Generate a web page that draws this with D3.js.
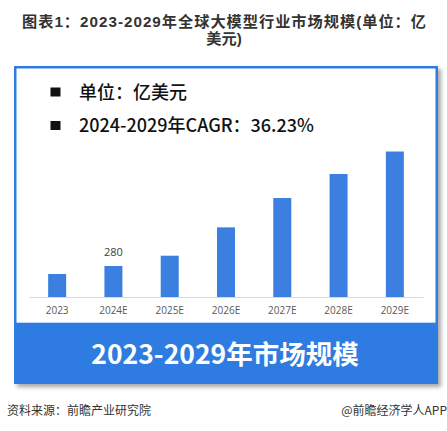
<!DOCTYPE html>
<html><head><meta charset="utf-8">
<script src="https://cdn.jsdelivr.net/npm/d3@7"></script>
<style>
html,body{margin:0;padding:0;background:#fff;}
svg{display:block;font-family:"Noto Sans CJK SC","Noto Sans",sans-serif;}
</style></head>
<body>
<svg id="chart" width="447" height="431"></svg>
<script>
const categories = ["2023","2024E","2025E","2026E","2027E","2028E","2029E"];
const values = [208, 280, 373, 629, 894, 1111, 1314];
const labelled = ["2024E"];
const titleLines = ["图表1：2023-2029年全球大模型行业市场规模(单位：亿", "美元)"];
const legendLines = ["单位：亿美元", "2024-2029年CAGR：36.23%"];
const bannerText = "2023-2029年市场规模";
const sourceText = "资料来源：前瞻产业研究院";
const creditText = "@前瞻经济学人APP";

const blue = "#2F7BE2";
const barColor = "#3B80E0";
const svg = d3.select("#chart");

const defs = svg.append("defs");
const f = defs.append("filter").attr("id","sh").attr("x","-5%").attr("y","-5%").attr("width","115%").attr("height","115%");
f.append("feDropShadow").attr("dx",3).attr("dy",3).attr("stdDeviation",2).attr("flood-color","#000").attr("flood-opacity",0.35);

// title
svg.append("g").selectAll("text").data(titleLines).join("text")
  .attr("x",224).attr("y",(d,i)=>26.5+i*17)
  .attr("text-anchor","middle").attr("font-size",15.2).attr("font-weight","bold")
  .attr("font-family","'Liberation Sans','Noto Sans CJK SC',sans-serif")
  .attr("fill","#333")
  .each(function(d,i){ if(i===0) d3.select(this).attr("textLength",404).attr("lengthAdjust","spacing"); })
  .text(d=>d);

// box
const bx=14, by=66, bw=424, bh=318;
svg.append("rect").attr("x",bx).attr("y",by).attr("width",bw).attr("height",bh)
  .attr("fill",blue).attr("filter","url(#sh)");
svg.append("rect").attr("x",bx+2.5).attr("y",by+2.5).attr("width",bw-5).attr("height",322.7-by-2.5)
  .attr("fill","#fff");

// legend
const lg = svg.append("g").selectAll("g").data(legendLines).join("g")
  .attr("transform",(d,i)=>`translate(0,${i*33.5})`);
lg.append("rect").attr("x",50.5).attr("y",87.5).attr("width",10).attr("height",9).attr("fill","#111");
lg.append("text").attr("x",79).attr("y",98.5).attr("font-size",18).attr("font-weight","500")
  .attr("fill","#111").text(d=>d);

// scales
const x = d3.scaleBand().domain(categories).range([29,423]).paddingInner(0.68).paddingOuter(0.34);
const y = d3.scaleLinear().domain([0,1400]).range([297,142]);

svg.append("g").selectAll("rect").data(categories).join("rect")
  .attr("x",d=>x(d)).attr("width",x.bandwidth())
  .attr("y",(d,i)=>y(values[i])).attr("height",(d,i)=>y(0)-y(values[i]))
  .attr("fill",barColor);

const ax = svg.append("g").attr("transform",`translate(0,${y(0)})`)
  .call(d3.axisBottom(x).tickSize(0).tickPadding(10));
ax.select(".domain").attr("stroke","#d9d9d9").attr("stroke-width",1);
ax.selectAll("text").attr("font-size",10).attr("fill","#595959")
  .attr("font-family","'Open Sans','Noto Sans',sans-serif");

// data label
svg.append("g").selectAll("text").data(categories.map((c,i)=>({c,v:values[i]})).filter(d=>labelled.includes(d.c)))
  .join("text").attr("x",d=>x(d.c)+x.bandwidth()/2).attr("y",d=>y(d.v)-10)
  .attr("text-anchor","middle").attr("font-size",11).attr("fill","#404040")
  .attr("font-family","'Open Sans','Noto Sans',sans-serif").text(d=>d.v);

// banner text
svg.append("text").attr("x",225).attr("y",363.5).attr("text-anchor","middle")
  .attr("font-size",26.5).attr("font-weight","bold").attr("fill","#fff").text(bannerText);

// footer
svg.append("text").attr("x",7).attr("y",415).attr("font-size",12).attr("fill","#333").text(sourceText);
svg.append("text").attr("x",447).attr("y",415).attr("text-anchor","end").attr("font-size",12).attr("fill","#333").text(creditText);
</script>
</body></html>
